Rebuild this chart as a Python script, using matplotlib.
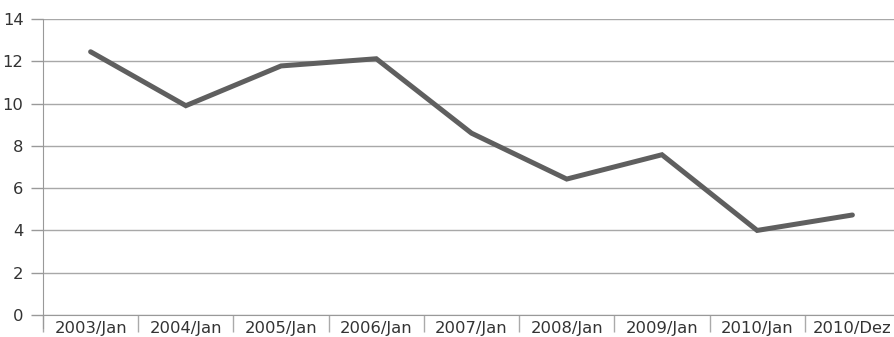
import matplotlib
matplotlib.use("Agg")
import matplotlib.pyplot as plt
import numpy as np

categories = ["2003/Jan", "2004/Jan", "2005/Jan", "2006/Jan", "2007/Jan",
              "2008/Jan", "2009/Jan", "2010/Jan", "2010/Dez"]
values = [12.45, 9.9, 11.78, 12.12, 8.6, 6.43, 7.58, 4.0, 4.73]
y_ticks = [0, 2, 4, 6, 8, 10, 12, 14]

fig = plt.figure(figsize=(8.94, 3.37), dpi=100)
ax = fig.add_axes([43 / 894, 22 / 337, 857 / 894, 296 / 337])

x = np.arange(len(categories))
ax.plot(x, values, color="#5f5f5f", linewidth=3.6, solid_capstyle="round",
        solid_joinstyle="miter", zorder=3)

ax.set_xlim(-0.5, len(categories) - 0.5)
ax.set_ylim(0, 14)
ax.set_yticks(y_ticks)
ax.set_yticklabels([str(v) for v in y_ticks])

# category labels centred, tick marks at the category boundaries
ax.set_xticks(np.arange(len(categories) + 1) - 0.5)
ax.set_xticklabels([])
ax.set_xticks(x, minor=True)
ax.set_xticklabels(categories, minor=True)
ax.tick_params(axis="x", which="major", length=12, width=1, color="#aaaaaa",
               direction="out")
ax.tick_params(axis="x", which="minor", length=0, pad=4, labelsize=11.8,
               labelcolor="#333333")
ax.tick_params(axis="y", length=9, width=1, color="#999999", pad=5,
               labelsize=11.8, labelcolor="#333333")

ax.yaxis.grid(True, color="#a8a8a8", linewidth=1)
ax.set_axisbelow(True)
for side in ("top", "right"):
    ax.spines[side].set_visible(False)
ax.spines["left"].set_color("#999999")
ax.spines["bottom"].set_color("#999999")
ax.spines["left"].set_bounds(-0.6, 14)

fig.savefig("out.png", dpi=100)
